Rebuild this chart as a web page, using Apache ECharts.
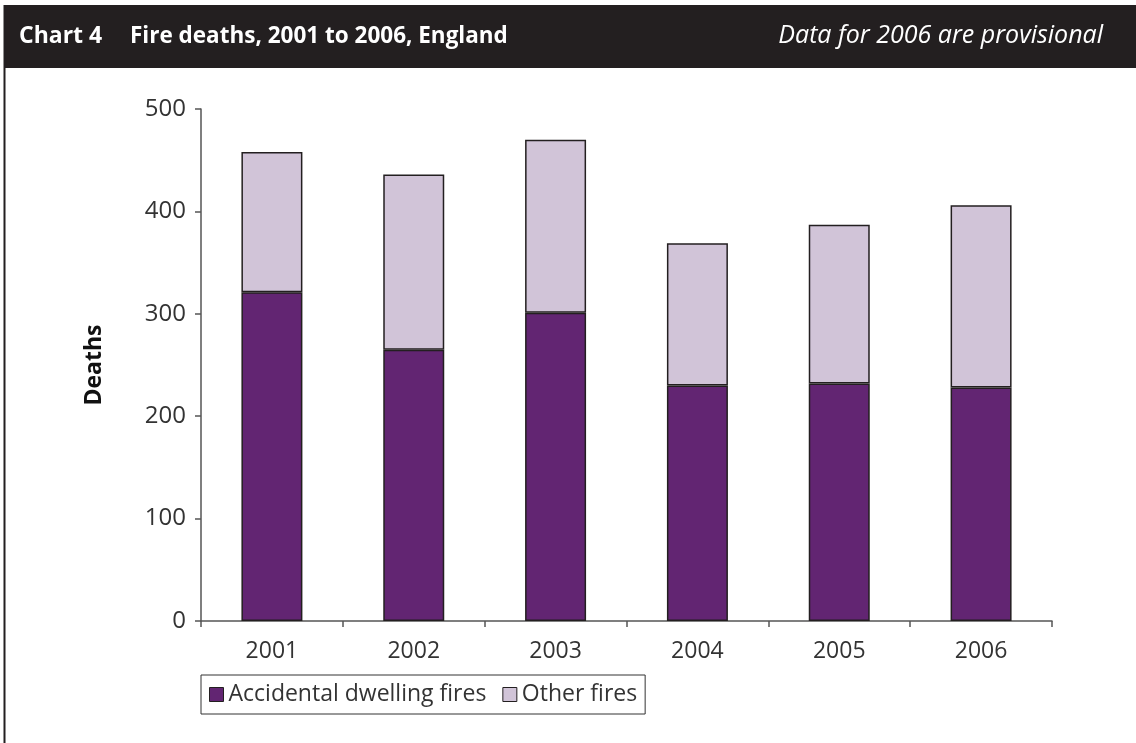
<!DOCTYPE html>
<html>
<head>
<meta charset="utf-8">
<script src="https://cdn.jsdelivr.net/npm/echarts@6/dist/echarts.min.js"></script>
<style>html,body{margin:0;padding:0;background:#fff}#c{width:1136px;height:743px}</style>
</head>
<body>
<div id="c"></div>
<script>
const years = ['2001', '2002', '2003', '2004', '2005', '2006'];
const accidentalDwelling = [321, 265, 301, 230, 232, 228];
const otherFires = [137, 171, 169, 139, 155, 178];
const yTicks = [0, 100, 200, 300, 400, 500];

const FONT = '"Open Sans", "Noto Sans", sans-serif';
const chart = echarts.init(document.getElementById('c'), null, {renderer: 'canvas'});
chart.setOption({
  animation: false,
  backgroundColor: '#fff',
  graphic: [
    {type: 'rect', shape: {x: 5, y: 5, width: 1131, height: 63}, style: {fill: '#231f20'}, z: 0},
    {type: 'line', shape: {x1: 4.5, y1: 5, x2: 4.5, y2: 743}, style: {stroke: '#231f20', lineWidth: 2}, z: 0}
  ],
  title: [
    {text: 'Chart 4', left: 14, top: 20, textStyle: {color: '#fff', fontFamily: FONT, fontWeight: 'bold', fontSize: 23}},
    {text: 'Fire deaths, 2001 to 2006, England', left: 125, top: 20, textStyle: {color: '#fff', fontFamily: FONT, fontWeight: 'bold', fontSize: 22.5}},
    {text: 'Data for 2006 are provisional', right: 28, top: 18, textStyle: {color: '#fff', fontFamily: FONT, fontStyle: 'italic', fontWeight: 'normal', fontSize: 25}}
  ],
  legend: {
    left: 201, top: 675,
    orient: 'horizontal',
    borderColor: '#333', borderWidth: 1,
    padding: [8, 8, 8, 8],
    itemGap: 16,
    itemWidth: 14, itemHeight: 14,
    icon: 'rect',
    textStyle: {fontFamily: FONT, fontSize: 23, color: '#333'},
    data: [
      {name: 'Accidental dwelling fires', itemStyle: {borderColor: '#231f20', borderWidth: 1}},
      {name: 'Other fires', itemStyle: {borderColor: '#231f20', borderWidth: 1}}
    ]
  },
  grid: {left: 201, right: 84, top: 109, bottom: 122, containLabel: false},
  xAxis: {
    type: 'category',
    data: years,
    axisLine: {lineStyle: {color: '#555', width: 1.5}},
    axisTick: {show: true, length: 6, lineStyle: {color: '#555', width: 1.5}},
    axisLabel: {fontFamily: FONT, fontSize: 23, color: '#333', margin: 19}
  },
  yAxis: {
    type: 'value',
    min: yTicks[0], max: yTicks[yTicks.length - 1], interval: 100,
    name: 'Deaths',
    nameLocation: 'middle',
    nameGap: 95,
    nameRotate: 90,
    nameTextStyle: {fontFamily: FONT, fontSize: 23, fontWeight: 'bold', color: '#111'},
    axisLine: {show: true, lineStyle: {color: '#555', width: 1.5}},
    axisTick: {show: true, length: 6, lineStyle: {color: '#555', width: 1.5}},
    axisLabel: {fontFamily: FONT, fontSize: 24, color: '#333', margin: 15},
    splitLine: {show: false}
  },
  series: [
    {
      name: 'Accidental dwelling fires', type: 'bar', stack: 'total',
      data: accidentalDwelling, barWidth: '43%',
      itemStyle: {color: '#622572', borderColor: '#231f20', borderWidth: 1.5}
    },
    {
      name: 'Other fires', type: 'bar', stack: 'total',
      data: otherFires, barWidth: '43%',
      itemStyle: {color: '#d1c4d8', borderColor: '#231f20', borderWidth: 1.5}
    }
  ]
});
</script>
</body>
</html>
